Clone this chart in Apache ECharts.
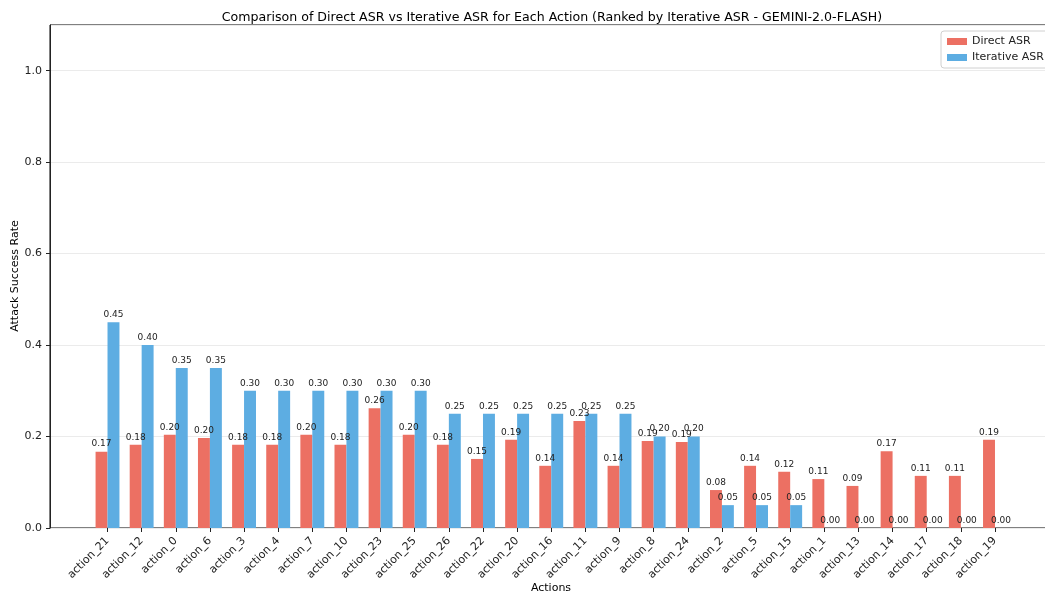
<!DOCTYPE html>
<html>
<head>
<meta charset="utf-8">
<script src="https://cdn.jsdelivr.net/npm/echarts@6/dist/echarts.min.js"></script>
<style>
html,body{margin:0;padding:0;background:#fff;}
#chart{width:1045px;height:600px;}
</style>
</head>
<body>
<div id="chart"></div>
<script>
const categories = ["action_21","action_12","action_0","action_6","action_3","action_4","action_7","action_10","action_23","action_25","action_26","action_22","action_20","action_16","action_11","action_9","action_8","action_24","action_2","action_5","action_15","action_1","action_13","action_14","action_17","action_18","action_19"];
const directASR = [0.167,0.182,0.204,0.197,0.182,0.182,0.204,0.182,0.262,0.204,0.182,0.151,0.193,0.136,0.234,0.136,0.190,0.188,0.083,0.136,0.123,0.107,0.092,0.168,0.114,0.114,0.193];
const iterativeASR = [0.45,0.40,0.35,0.35,0.30,0.30,0.30,0.30,0.30,0.30,0.25,0.25,0.25,0.25,0.25,0.25,0.20,0.20,0.05,0.05,0.05,0,0,0,0,0,0];
const yTicks = [0,0.2,0.4,0.6,0.8,1.0];

const FONT = 'DejaVu Sans';
// plot frame: x from 50 to ~1052 (cropped at 1045), y from 25 to 528
const frameLeft = 50, frameRight = 1052.5;
const unit = (frameRight - frameLeft) / 29.37; // category spacing in px (xlim -1.685..27.685)
const bandStart = frameLeft + (1.685 - 0.5) * unit;
const bandEnd = bandStart + categories.length * unit;

const chart = echarts.init(document.getElementById('chart'), null, {renderer:'canvas'});
const labelOpt = {
  show: true, position: 'top', distance: 3,
  fontFamily: FONT, fontSize: 9, color: '#222',
  formatter: p => p.value.toFixed(2)
};
chart.setOption({
  animation: false,
  backgroundColor: '#fff',
  title: {
    text: 'Comparison of Direct ASR vs Iterative ASR for Each Action (Ranked by Iterative ASR - GEMINI-2.0-FLASH)',
    left: 547, top: 6, textAlign: 'center',
    textStyle: {fontFamily: FONT, fontSize: 12.6, fontWeight: 'normal', color: '#000'}
  },
  legend: {
    data: ['Direct ASR', 'Iterative ASR'],
    orient: 'vertical', left: 941, top: 31,
    itemWidth: 20, itemHeight: 7, itemGap: 5,
    padding: [5, 8, 5, 6],
    borderColor: '#d0d0d0', borderWidth: 1, borderRadius: 3,
    backgroundColor: 'rgba(255,255,255,0.85)',
    textStyle: {fontFamily: FONT, fontSize: 11, color: '#222'},
    icon: 'rect'
  },
  graphic: [
    {type: 'text', x: 551, y: 588, style: {text: 'Actions', font: '11px "DejaVu Sans"', fill: '#000', align: 'center', verticalAlign: 'middle'}},
    {type: 'text', x: 15, y: 276, rotation: Math.PI / 2, style: {text: 'Attack Success Rate', font: '11px "DejaVu Sans"', fill: '#000', align: 'center', verticalAlign: 'middle'}}
  ],
  grid: [
    {left: frameLeft, width: frameRight - frameLeft, top: 25, bottom: 72, show: true, borderColor: '#000', borderWidth: 1, backgroundColor: 'transparent', outerBoundsMode: 'none', containLabel: false},
    {left: bandStart, width: bandEnd - bandStart, top: 25, bottom: 72, outerBoundsMode: 'none', containLabel: false}
  ],
  xAxis: [
    {gridIndex: 0, type: 'value', min: 0, max: 1, show: false},
    {
      gridIndex: 1, type: 'category', data: categories,
      axisLine: {show: false},
      axisTick: {show: true, alignWithLabel: true, length: 4, lineStyle: {color: '#222'}},
      axisLabel: {rotate: 45, fontFamily: FONT, fontSize: 11, color: '#222', margin: 11, interval: 0},
      splitLine: {show: false}
    }
  ],
  yAxis: [
    {
      gridIndex: 0, type: 'value', min: 0, max: 1.1, interval: 0.2,
      axisLine: {show: true, lineStyle: {color: '#222'}},
      axisTick: {show: true, length: 4, lineStyle: {color: '#222'}},
      axisLabel: {fontFamily: FONT, fontSize: 11, color: '#222', showMaxLabel: false,
        formatter: v => yTicks.some(t => Math.abs(t - v) < 1e-9) ? v.toFixed(1) : ''},
      splitLine: {show: true, lineStyle: {color: '#ebebeb', width: 1}}
    },
    {gridIndex: 1, type: 'value', min: 0, max: 1.1, show: false}
  ],
  series: [
    {
      name: 'Direct ASR', type: 'bar', xAxisIndex: 1, yAxisIndex: 1,
      data: directASR, barWidth: unit * 0.35, barGap: '0%',
      itemStyle: {color: '#EC7063'}, label: labelOpt, z: 3
    },
    {
      name: 'Iterative ASR', type: 'bar', xAxisIndex: 1, yAxisIndex: 1,
      data: iterativeASR, barWidth: unit * 0.35, barGap: '0%',
      itemStyle: {color: '#5DADE2'}, label: labelOpt, z: 3
    }
  ]
});
</script>
</body>
</html>
